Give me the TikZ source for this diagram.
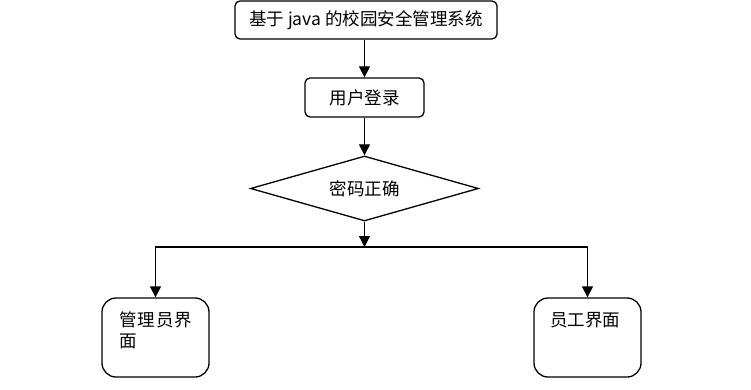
\documentclass[tikz,border=0pt]{standalone}
\usepackage{fontspec}
\setmainfont{Liberation Sans}
\newfontfamily\cjk{Noto Sans CJK SC}
\usetikzlibrary{shapes.geometric,arrows.meta}

\begin{document}
\begin{tikzpicture}[
	x=1pt, y=-1pt,
	box/.style={
		draw, line width=1.3pt, rectangle, rounded corners=5pt,
		font=\fontsize{17.5}{21}\selectfont\cjk, inner sep=0pt
	},
	check/.style={
		draw, line width=1.3pt, diamond, inner sep=0pt, shape aspect=3.5,
		minimum width=228pt, minimum height=65pt,
		font=\fontsize{17.5}{21}\selectfont\cjk
	},
	panel/.style={
		draw, line width=1.3pt, rectangle, rounded corners=14pt,
		minimum width=107pt, minimum height=79pt
	},
	paneltext/.style={font=\fontsize{17.5}{21}\selectfont\cjk, align=left, inner sep=0pt},
	arr/.style={-{Triangle[length=11pt, width=11pt]}, line width=1.3pt},
	]
	\useasboundingbox (0,0) rectangle (751,390);
	\node[box, minimum width=262pt, minimum height=38pt] (title) at (366,20)
	{基于 java 的校园安全管理系统};
	\node[box, minimum width=119pt, minimum height=39pt] (login) at (364.5,97.5)
	{用户登录};
	\node[check] (pwd) at (364.5,188.5) {密码正确};
	\coordinate (split) at (364.5,247);
	\node[panel] (admin) at (155.5,337.5) {};
	\node[panel] (staff) at (587.5,337.5) {};
	\node[paneltext, anchor=north west] (admintext) at (119,312)
	{管\hspace{1pt}理\hspace{1pt}员\hspace{1pt}界\\面};
	\node[paneltext, anchor=north] (stafftext) at (585,312) {员工界面};
	\draw[arr] (title.south -| login) -- (login);
	\draw[arr] (login) -- (pwd);
	\draw[arr] (pwd) -- (split);
	\draw[arr] (split) -| (admin);
	\draw[arr] (split) -| (staff);
\end{tikzpicture}
\end{document}
